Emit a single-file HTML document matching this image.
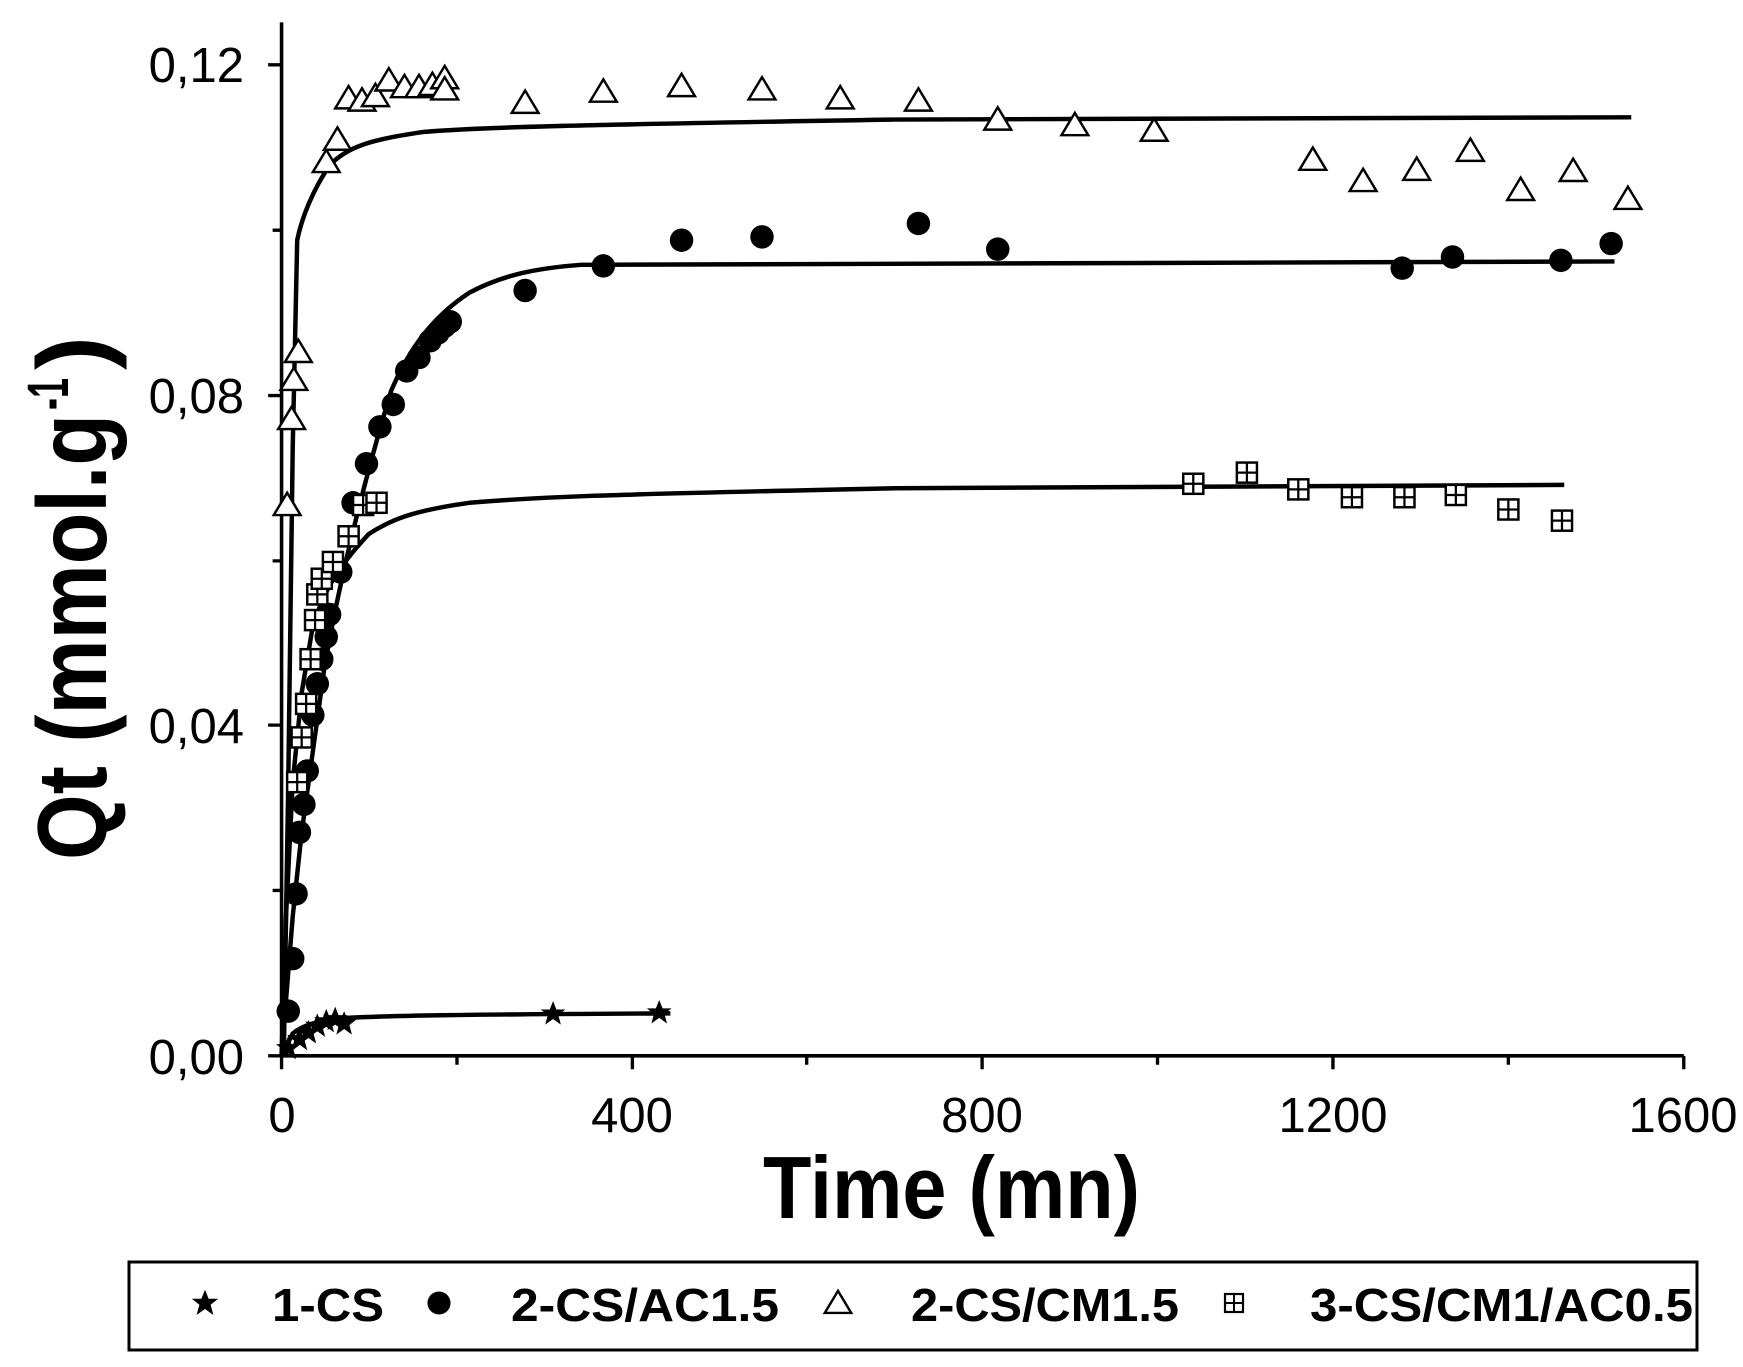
<!DOCTYPE html>
<html><head><meta charset="utf-8"><style>html,body{margin:0;padding:0;background:#fff}svg{display:block}</style></head>
<body>
<svg width="1743" height="1367" viewBox="0 0 1743 1367" xmlns="http://www.w3.org/2000/svg" font-family="Liberation Sans, sans-serif">
<defs>
<path id="tri" d="M0,-11 L12,9 L-12,9 Z" fill="#fff" stroke="#000" stroke-width="2.2"/>
<g id="sq"><rect x="-9" y="-9" width="18" height="18" fill="#fff" stroke="#000" stroke-width="2.2"/><path d="M0,-9V9M-9,0H9" stroke="#000" stroke-width="2"/></g>
<circle id="ci" r="10.5" fill="#000"/>
<path id="st" d="M0,-11 L3,-3.5 11,-3.5 4.7,1.5 7,10 0,5 -7,10 -4.7,1.5 -11,-3.5 -3,-3.5Z" fill="#000"/>
</defs>
<g transform="scale(1.1173)">
<path d="M252,20 V945 H1507" fill="none" stroke="#000" stroke-width="3.2"/>
<g stroke="#000" stroke-width="3">
<path d="M240,945H252M240,649H252M240,354H252M240,58H252M244,797H252M244,502H252M244,206H252"/>
<path d="M252,945V957M566,945V957M879,945V957M1193,945V957M1507,945V957M409,945V953M722,945V953M1036,945V953M1350,945V953"/>
</g>
<g fill="none" stroke="#000" stroke-width="4" stroke-linejoin="round">
<path d="M254,945 L258,700 L262,400 L266,215 C270,195 280,170 295,148 C310,132 330,125 380,118 C430,114 500,112 800,107 L1460,105"/>
<path d="M252,945 L262,820 L270,745 L290,600 C300,540 320,450 350,350 C365,315 385,285 420,262 C450,246 480,240 520,237 C560,235 650,234 1445,234"/>
<path d="M252,945 L256,820 L262,700 L270,620 L280,560 C290,530 300,510 330,478 C350,465 370,457 420,450 C480,445 520,443 800,437 L1400,434"/>
<path d="M252,945 L262,925 C270,918 285,913 310,911 C350,909 400,908 600,907"/>
</g>
<g>
<use href="#st" x="258" y="938"/><use href="#st" x="268" y="930"/><use href="#st" x="276" y="924"/><use href="#st" x="284" y="918"/><use href="#st" x="292" y="914"/><use href="#st" x="300" y="912"/><use href="#st" x="308" y="916"/><use href="#st" x="495" y="907"/><use href="#st" x="590" y="906"/>
</g>
<g>
<use href="#ci" x="258" y="905"/><use href="#ci" x="262" y="858"/><use href="#ci" x="265" y="800"/><use href="#ci" x="268" y="745"/><use href="#ci" x="272" y="720"/><use href="#ci" x="275" y="690"/><use href="#ci" x="280" y="640"/><use href="#ci" x="284" y="612"/><use href="#ci" x="288" y="590"/><use href="#ci" x="292" y="570"/><use href="#ci" x="295" y="550"/><use href="#ci" x="305" y="512"/><use href="#ci" x="316" y="450"/><use href="#ci" x="328" y="415"/><use href="#ci" x="340" y="382"/><use href="#ci" x="352" y="362"/><use href="#ci" x="364" y="332"/><use href="#ci" x="375" y="320"/><use href="#ci" x="385" y="305"/><use href="#ci" x="392" y="298"/><use href="#ci" x="398" y="292"/><use href="#ci" x="403" y="288"/><use href="#ci" x="470" y="260"/><use href="#ci" x="540" y="238"/><use href="#ci" x="610" y="215"/><use href="#ci" x="682" y="212"/><use href="#ci" x="822" y="200"/><use href="#ci" x="893" y="223"/><use href="#ci" x="1255" y="240"/><use href="#ci" x="1300" y="230"/><use href="#ci" x="1397" y="233"/><use href="#ci" x="1442" y="218"/>
</g>
<g>
<use href="#sq" x="266" y="700"/><use href="#sq" x="270" y="660"/><use href="#sq" x="274" y="630"/><use href="#sq" x="278" y="590"/><use href="#sq" x="282" y="555"/><use href="#sq" x="284" y="532"/><use href="#sq" x="288" y="518"/><use href="#sq" x="298" y="503"/><use href="#sq" x="312" y="480"/><use href="#sq" x="325" y="452"/><use href="#sq" x="337" y="450"/><use href="#sq" x="1068" y="433"/><use href="#sq" x="1116" y="423"/><use href="#sq" x="1162" y="438"/><use href="#sq" x="1210" y="445"/><use href="#sq" x="1257" y="445"/><use href="#sq" x="1303" y="443"/><use href="#sq" x="1350" y="456"/><use href="#sq" x="1398" y="466"/>
</g>
<g>
<use href="#tri" x="257" y="452"/><use href="#tri" x="261" y="375"/><use href="#tri" x="263" y="340"/><use href="#tri" x="267" y="315"/><use href="#tri" x="292" y="145"/><use href="#tri" x="302" y="125"/><use href="#tri" x="312" y="88"/><use href="#tri" x="324" y="90"/><use href="#tri" x="336" y="86"/><use href="#tri" x="348" y="72"/><use href="#tri" x="362" y="78"/><use href="#tri" x="375" y="78"/><use href="#tri" x="387" y="76"/><use href="#tri" x="398" y="70"/><use href="#tri" x="398" y="80"/><use href="#tri" x="470" y="92"/><use href="#tri" x="540" y="82"/><use href="#tri" x="610" y="77"/><use href="#tri" x="682" y="80"/><use href="#tri" x="752" y="88"/><use href="#tri" x="822" y="90"/><use href="#tri" x="893" y="107"/><use href="#tri" x="962" y="112"/><use href="#tri" x="1033" y="117"/><use href="#tri" x="1175" y="143"/><use href="#tri" x="1220" y="162"/><use href="#tri" x="1268" y="152"/><use href="#tri" x="1316" y="135"/><use href="#tri" x="1361" y="170"/><use href="#tri" x="1408" y="153"/><use href="#tri" x="1457" y="178"/>
</g>
</g>
<g font-size="49" text-anchor="end">
<text x="244" y="82">0,12</text><text x="244" y="413">0,08</text><text x="244" y="743">0,04</text><text x="244" y="1074">0,00</text>
</g>
<g font-size="49" text-anchor="middle">
<text x="282" y="1132">0</text><text x="632" y="1132">400</text><text x="982" y="1132">800</text><text x="1333" y="1132">1200</text><text x="1683" y="1132">1600</text>
</g>
<text x="763" y="1218" font-size="88" font-weight="bold" textLength="377" lengthAdjust="spacingAndGlyphs">Time (mn)</text>
<g transform="translate(106,860) rotate(-90)" font-weight="bold">
<text x="0" y="0" font-size="98" textLength="446" lengthAdjust="spacingAndGlyphs">Qt (mmol.g</text>
<text x="450" y="-38" font-size="58" textLength="32" lengthAdjust="spacingAndGlyphs">-1</text>
<text x="490" y="0" font-size="98" textLength="34" lengthAdjust="spacingAndGlyphs">)</text>
</g>
<rect x="129" y="1262" width="1568" height="88" fill="none" stroke="#000" stroke-width="3"/>
<use href="#st" transform="translate(205,1303) scale(1.2)"/>
<use href="#ci" transform="translate(439,1303) scale(1.1)"/>
<use href="#tri" transform="translate(838,1303) scale(1.1)"/>
<use href="#sq" transform="translate(1234,1303) scale(1)"/>
<g font-size="46" font-weight="bold">
<text x="272" y="1321" textLength="112" lengthAdjust="spacingAndGlyphs">1-CS</text>
<text x="511" y="1321" textLength="268" lengthAdjust="spacingAndGlyphs">2-CS/AC1.5</text>
<text x="911" y="1321" textLength="268" lengthAdjust="spacingAndGlyphs">2-CS/CM1.5</text>
<text x="1310" y="1321" textLength="383" lengthAdjust="spacingAndGlyphs">3-CS/CM1/AC0.5</text>
</g>
</svg>
</body></html>
